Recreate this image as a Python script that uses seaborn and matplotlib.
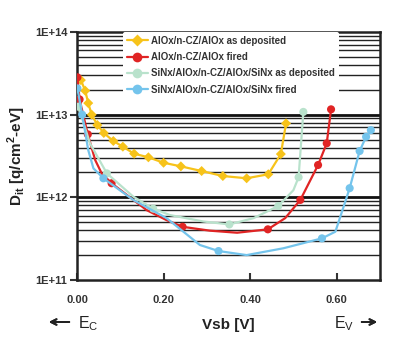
import numpy as np
import pandas as pd
import seaborn as sns
import matplotlib
matplotlib.use("Agg")
import matplotlib.pyplot as plt
from matplotlib.lines import Line2D
from matplotlib.ticker import FixedLocator

# ---- data ----
labels = ["AlOx/n-CZ/AlOx as deposited",
          "AlOx/n-CZ/AlOx fired",
          "SiNx/AlOx/n-CZ/AlOx/SiNx as deposited",
          "SiNx/AlOx/n-CZ/AlOx/SiNx fired"]

# marker points
y_dep_v = [0.009, 0.019, 0.026, 0.034, 0.047, 0.062, 0.084, 0.106, 0.132, 0.165, 0.200,
           0.240, 0.288, 0.337, 0.392, 0.442, 0.471, 0.483]
y_dep_d = [2.62e13, 1.95e13, 1.38e13, 1.0e13, 7.5e12, 6.0e12, 4.8e12, 4.1e12, 3.37e12,
           3.05e12, 2.62e12, 2.37e12, 2.08e12, 1.81e12, 1.70e12, 1.90e12, 3.34e12, 7.85e12]

r_fir_v = [0.001, 0.006, 0.025, 0.080, 0.244, 0.441, 0.516, 0.557, 0.577, 0.587]
r_fir_d = [2.83e13, 1.53e13, 5.78e12, 1.48e12, 4.4e11, 4.1e11, 9.3e11, 2.46e12, 4.5e12, 1.16e13]

m_dep_v = [0.003, 0.069, 0.176, 0.352, 0.465, 0.512, 0.523]
m_dep_d = [1.25e13, 1.95e12, 7.3e11, 4.7e11, 7.85e11, 1.75e12, 1.08e13]

b_fir_v = [0.001, 0.012, 0.061, 0.327, 0.566, 0.630, 0.653, 0.668, 0.679]
b_fir_d = [2.08e13, 1.0e13, 1.7e12, 2.24e11, 3.19e11, 1.29e12, 3.63e12, 5.4e12, 6.5e12]

# smooth curve points (markers plus extra points)
r_curve_v = [0.001, 0.006, 0.025, 0.042, 0.057, 0.080, 0.161, 0.207, 0.244, 0.307, 0.370,
             0.441, 0.481, 0.516, 0.557, 0.577, 0.587]
r_curve_d = [2.83e13, 1.53e13, 5.78e12, 2.83e12, 1.95e12, 1.48e12, 7.0e11, 5.3e11, 4.4e11,
             3.95e11, 3.73e11, 4.1e11, 5.6e11, 9.3e11, 2.46e12, 4.5e12, 1.16e13]

m_curve_v = [0.003, 0.030, 0.069, 0.130, 0.176, 0.215, 0.292, 0.352, 0.408, 0.465, 0.500,
             0.512, 0.523]
m_curve_d = [1.25e13, 4.5e12, 1.95e12, 1.02e12, 7.3e11, 6.1e11, 5.1e11, 4.7e11, 5.6e11,
             7.85e11, 1.22e12, 1.75e12, 1.08e13]

b_curve_v = [0.001, 0.012, 0.026, 0.038, 0.061, 0.130, 0.207, 0.284, 0.327, 0.392, 0.477,
             0.566, 0.597, 0.616, 0.630, 0.653, 0.668, 0.679]
b_curve_d = [2.08e13, 1.0e13, 3.73e12, 2.24e12, 1.7e12, 9.3e11, 5.6e11, 2.65e11, 2.24e11,
             2.0e11, 2.42e11, 3.19e11, 3.84e11, 7.7e11, 1.29e12, 3.63e12, 5.4e12, 6.5e12]

x_ticks = [0.0, 0.2, 0.4, 0.6]
x_tick_labels = ["0.00", "0.20", "0.40", "0.60"]
y_ticks = [1e11, 1e12, 1e13, 1e14]
y_tick_labels = ["1E+11", "1E+12", "1E+13", "1E+14"]

colors = ["#F7C31A", "#E02424", "#B9E2CC", "#74C4EC"]
markers = ["D", "o", "o", "o"]

# ---- plotting ----
sns.set_style("white")
plt.rcParams['font.family'] = ['Liberation Sans', 'DejaVu Sans']
plt.rcParams['mathtext.fontset'] = 'custom'
plt.rcParams['mathtext.rm'] = 'Liberation Sans'
plt.rcParams['mathtext.bf'] = 'Liberation Sans:bold'

fig = plt.figure(figsize=(4.13, 3.46), dpi=100)
ax = fig.add_axes([0.1864, 0.1908, 0.7336, 0.7167])

series = [
    (y_dep_v, y_dep_d, y_dep_v, y_dep_d),
    (r_curve_v, r_curve_d, r_fir_v, r_fir_d),
    (m_curve_v, m_curve_d, m_dep_v, m_dep_d),
    (b_curve_v, b_curve_d, b_fir_v, b_fir_d),
]
draw_order = [2, 3, 1, 0]
for i in draw_order:
    cv, cd, mv, md = series[i]
    cdf = pd.DataFrame({"V": cv, "D": cd})
    mdf = pd.DataFrame({"V": mv, "D": md})
    sns.lineplot(data=cdf, x="V", y="D", sort=False, ax=ax, color=colors[i], lw=1.6,
                 zorder=3 + i * 0.1, legend=False)
    sns.scatterplot(data=mdf, x="V", y="D", ax=ax, color=colors[i], marker=markers[i],
                    s=26 if markers[i] == "D" else 34, edgecolor="none", zorder=3.05 + i * 0.1,
                    legend=False)

ax.set_yscale("log")
ax.set_xlim(0.0, 0.70)
ax.set_ylim(1e11, 1e14)

# horizontal grid lines
for dec in [1e11, 1e12, 1e13]:
    for k in range(2, 10):
        ax.axhline(dec * k, color="#222222", lw=1.0, zorder=1)
for dec in [1e12, 1e13]:
    ax.axhline(dec, color="#111111", lw=2.0, zorder=1)

ax.yaxis.set_major_locator(FixedLocator(y_ticks))
ax.set_yticklabels(y_tick_labels)
ax.yaxis.set_minor_locator(FixedLocator([]))
ax.set_xticks(x_ticks)
ax.set_xticklabels(x_tick_labels)

ax.tick_params(axis="y", which="major", direction="out", length=5, width=1.5, left=True,
               labelsize=8, colors="#333333", pad=2)
ax.tick_params(axis="x", which="major", direction="in", length=5, width=1.5, bottom=True,
               labelsize=8, colors="#333333", pad=11)
for lab in ax.get_xticklabels() + ax.get_yticklabels():
    lab.set_fontweight("bold")

for sp in ax.spines.values():
    sp.set_linewidth(1.8)
    sp.set_color("#222222")
    sp.set_visible(True)

ax.set_xlabel("Vsb [V]", fontsize=11, fontweight="bold", color="#222222", labelpad=9)
ax.set_ylabel(r"D$_{\mathbf{it}}$ [q/cm$^{\mathbf{2}}$-eV]", fontsize=11, fontweight="bold",
              color="#222222", labelpad=5)

# E_C / E_V annotations
fig.text(78 / 413, 1 - 324 / 346, r"E$_\mathrm{C}$", fontsize=11.5, color="#222222", va="center")
fig.text(334 / 413, 1 - 324 / 346, r"E$_\mathrm{V}$", fontsize=11.5, color="#222222", va="center")
fig.add_artist(plt.annotate("", xy=(46 / 413, 1 - 322 / 346), xytext=(72 / 413, 1 - 322 / 346),
                            xycoords="figure fraction", textcoords="figure fraction",
                            arrowprops=dict(arrowstyle="->", lw=1.4, color="#222222")))
fig.add_artist(plt.annotate("", xy=(380 / 413, 1 - 322 / 346), xytext=(359 / 413, 1 - 322 / 346),
                            xycoords="figure fraction", textcoords="figure fraction",
                            arrowprops=dict(arrowstyle="->", lw=1.4, color="#222222")))

handles = [Line2D([0], [0], color=colors[i], lw=1.6, marker=markers[i],
                  markersize=6 if markers[i] == "D" else 7, markeredgecolor="none")
           for i in range(4)]
leg = ax.legend(handles, labels, loc="upper left", bbox_to_anchor=(0.135, 1.02),
                frameon=True, facecolor="white", edgecolor="none", framealpha=1,
                fontsize=7, handlelength=2.2, handletextpad=0.35, labelspacing=0.65,
                borderpad=0.4)
leg.set_zorder(5)
for t in leg.get_texts():
    t.set_fontweight("bold")
    t.set_color("#333333")

fig.savefig("out.png", dpi=100, facecolor="white")
